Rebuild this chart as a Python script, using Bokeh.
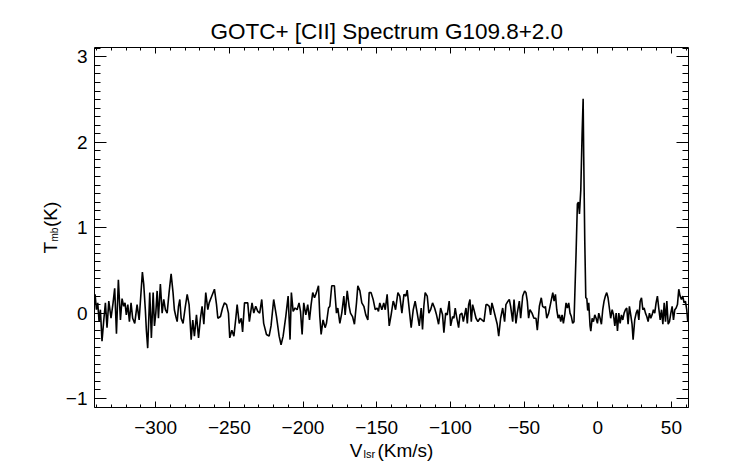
import numpy as np
from bokeh.plotting import figure
from bokeh.models import (Range1d, SingleIntervalTicker, LinearAxis, Label,
                          CustomJSTickFormatter, ColumnDataSource)
from bokeh.embed import file_html
from bokeh.resources import INLINE

# ---- data (velocity km/s, Tmb K) ----
v1 = [-341.5, -341.1, -340.2, -339.3, -338.4, -337.5, -336.4, -335.2, -334.1, -333.0, -331.8, -330.3,
      -328.9, -327.8, -326.6, -325.3, -323.9, -322.8, -321.7, -320.8, -319.9, -318.9, -317.8, -316.7,
      -315.6, -314.2, -312.6, -311.2, -310.1, -309.0, -308.1, -307.0, -306.3, -305.4, -304.0, -302.9,
      -301.7, -300.8, -299.9, -299.0, -298.1, -296.8, -295.6, -294.5, -293.4, -292.2, -290.9, -289.5,
      -288.2, -287.3, -286.3, -285.4, -284.5, -283.6, -282.7, -281.4, -280.0, -278.6, -277.3, -275.9,
      -274.8, -273.7, -272.3, -270.9, -269.6, -268.5, -267.3, -266.0, -264.6, -263.7, -261.9, -260.1,
      -258.7, -257.8, -256.0, -254.6, -253.3, -251.9, -250.6, -249.7, -248.3, -246.9, -245.6, -244.7,
      -243.3, -241.9, -241.0, -239.7]
t1 = [0.10, 0.22, 0.04, 0.12, -0.10, 0.04, -0.33, -0.08, 0.12, -0.17, 0.14, -0.06,
      0.12, 0.29, -0.24, 0.39, -0.08, 0.17, 0.08, 0.12, -0.02, 0.10, -0.10, 0.12,
      -0.06, -0.12, 0.10, -0.08, 0.20, 0.48, 0.34, 0.04, -0.20, -0.41, 0.24, -0.29,
      0.24, -0.15, 0.00, 0.26, -0.06, 0.34, 0.00, 0.16, 0.04, 0.00, 0.24, 0.46,
      0.24, 0.04, -0.04, -0.10, 0.08, 0.16, -0.06, -0.12, 0.06, 0.22, 0.10, -0.31,
      -0.08, -0.27, -0.02, -0.29, -0.06, 0.08, -0.13, 0.24, 0.04, 0.12, 0.20, 0.28,
      0.10, -0.06, -0.04, 0.06, 0.12, 0.10, 0.00, -0.29, -0.20, -0.27, -0.06, 0.10,
      -0.12, -0.06, -0.22, 0.12]

v2 = [-237.5, -236.4, -234.6, -233.4, -232.1, -230.7, -229.4, -228.0, -226.7, -224.8, -223.0, -221.7,
      -219.9, -218.0, -216.2, -214.9, -213.5, -211.7, -210.1, -208.8, -207.9, -206.7, -205.4, -204.0,
      -202.7, -201.7, -200.6, -199.5, -198.1, -196.8, -195.6, -194.5, -193.4, -192.2, -190.9, -189.5,
      -188.6, -187.7, -186.4, -185.0, -184.1, -182.7, -181.8, -180.5, -178.7, -177.3, -176.4, -175.0,
      -173.7, -172.3, -171.4, -170.0, -168.7, -167.8, -166.4, -165.1, -163.7, -162.8, -161.4, -160.1,
      -158.7, -157.4, -156.0, -155.1, -153.8, -152.4, -151.0, -149.7, -148.8, -147.9, -146.5, -145.2,
      -144.2, -142.9, -141.5, -140.2, -138.8]
t2 = [0.12, -0.10, 0.12, 0.00, 0.08, 0.02, 0.00, 0.16, -0.12, -0.25, -0.27, -0.15,
      0.16, -0.04, -0.27, -0.37, -0.27, -0.04, 0.20, -0.31, 0.24, 0.02, 0.06, 0.04,
      0.12, 0.02, -0.25, 0.12, -0.02, 0.10, -0.08, 0.10, 0.24, 0.18, 0.24, 0.32,
      -0.04, -0.25, -0.08, -0.17, -0.12, 0.06, 0.08, 0.32, 0.32, 0.00, 0.06, -0.12,
      0.00, 0.20, -0.02, 0.26, 0.08, 0.00, -0.04, -0.13, 0.12, 0.32, 0.26, 0.12,
      0.08, -0.02, -0.08, 0.24, 0.24, 0.16, 0.04, 0.06, 0.02, 0.12, 0.04, 0.12,
      0.04, 0.22, -0.15, -0.02, 0.14]

v3 = [-138.3, -137.2, -135.6, -134.3, -132.9, -131.5, -130.2, -129.3, -127.9, -126.6, -125.2, -123.9,
      -122.5, -121.1, -119.8, -118.9, -118.0, -117.1, -115.7, -114.6, -113.4, -112.1, -110.7, -109.4,
      -108.0, -106.6, -105.3, -104.4, -103.2, -102.1, -100.8, -99.8, -98.5, -97.6, -96.7, -95.8,
      -94.4, -93.5, -92.2, -91.2, -90.3, -89.4, -88.5, -87.6, -86.7, -85.8, -84.9, -84.0,
      -82.6, -81.3, -79.9, -78.6, -77.2, -75.8, -74.9, -73.6, -72.7, -71.8, -70.9, -69.5,
      -68.2, -67.2, -65.9, -64.5, -63.2, -62.3, -60.9, -60.0, -59.1, -57.7, -56.8, -55.5,
      -54.6, -53.2, -52.3, -50.9, -49.6, -48.7, -47.8, -46.9, -46.0, -44.6, -43.3, -41.9,
      -41.0, -39.6, -38.3, -37.4, -36.0]
t3 = [0.12, 0.04, 0.24, 0.20, 0.00, 0.22, 0.20, 0.27, 0.04, -0.17, 0.04, 0.14,
      0.00, -0.15, 0.06, -0.19, 0.08, 0.24, 0.20, 0.00, 0.04, 0.12, 0.06, -0.02,
      -0.13, 0.06, -0.02, -0.23, 0.00, -0.02, 0.14, -0.15, -0.04, -0.06, 0.06, -0.04,
      -0.17, -0.02, 0.00, -0.10, -0.02, 0.06, -0.12, 0.10, 0.16, -0.10, 0.10, 0.04,
      -0.06, -0.10, -0.06, -0.08, -0.10, 0.10, 0.10, 0.08, -0.02, 0.12, 0.06, -0.04,
      -0.13, -0.27, -0.06, 0.06, -0.10, 0.10, 0.14, 0.16, 0.08, -0.10, 0.16, -0.12,
      0.00, 0.14, -0.06, 0.20, 0.26, 0.24, 0.14, -0.06, 0.04, 0.00, -0.06, -0.06,
      -0.20, 0.08, 0.18, 0.08, 0.06]

v4 = [-35.5, -34.6, -33.3, -31.9, -30.5, -29.6, -28.7, -27.8, -26.9, -26.0, -25.1, -24.2,
      -23.3, -22.4, -21.5, -20.6, -19.7, -18.8, -17.9, -17.0, -16.1, -14.7, -13.8, -13.1,
      -12.4, -11.5, -10.6, -9.9, -9.5, -8.8, -8.1, -7.4, -6.8, -6.1, -5.2, -4.7,
      -3.8, -2.9, -2.0, -1.1, -0.2, 0.7, 1.6, 2.5, 3.4, 4.3, 5.2, 6.1,
      7.0, 7.9, 8.8, 9.8, 10.7, 11.6, 12.5, 13.4, 14.3, 15.2, 16.1, 17.0,
      17.9, 18.8, 19.7, 20.6, 21.5, 22.4, 23.3, 24.0, 25.1, 26.1, 27.0, 27.9,
      28.8, 29.7, 30.6, 31.5, 32.4, 33.3, 34.2, 35.1, 36.0, 36.9, 37.8, 38.7,
      39.6, 40.5, 41.4, 42.4, 43.3, 44.2, 45.1, 46.0, 46.9, 47.8, 48.7, 49.6,
      50.5, 51.4, 52.3, 53.2, 54.1, 55.0, 55.9, 56.8, 57.7, 58.6, 59.5, 60.4, 61.1]
t4 = [0.08, -0.06, 0.00, 0.12, 0.24, 0.14, 0.22, 0.04, -0.06, -0.02, -0.10, -0.02,
      -0.12, -0.02, 0.12, 0.06, 0.12, 0.00, -0.04, -0.12, -0.10, 0.70, 1.28, 1.30,
      1.16, 1.44, 2.10, 2.51, 1.83, 0.85, 0.18, 0.17, 0.03, 0.12, -0.15, -0.21,
      -0.06, -0.10, -0.02, -0.06, -0.12, 0.00, -0.06, -0.13, 0.04, 0.14, 0.20, 0.24,
      0.18, 0.06, -0.06, 0.04, -0.02, -0.15, 0.00, -0.21, 0.00, -0.12, -0.02, -0.08,
      0.00, 0.04, 0.06, -0.13, 0.08, -0.02, -0.13, -0.31, -0.08, 0.00, 0.04, -0.08,
      0.14, 0.18, 0.04, 0.06, 0.00, -0.04, -0.10, 0.00, -0.06, -0.02, 0.04, 0.00,
      0.12, 0.20, 0.06, -0.08, 0.04, -0.13, 0.12, -0.10, 0.14, -0.13, -0.10, 0.00,
      0.08, -0.08, 0.04, 0.06, 0.10, 0.28, 0.20, 0.16, 0.20, 0.12, 0.14, 0.04, -0.10]

velocity = v1 + v2 + v3 + v4
tmb = t1 + t2 + t3 + t4

title_text = "GOTC+ [CII] Spectrum G109.8+2.0"
x_range = (-341.5, 61.6)
y_range = (-1.105, 3.11)

FONT = "Liberation Sans"
W, H = 742, 464
FL, FR, FT, FB = 94, 688, 47, 407   # frame edges in canvas pixels

p = figure(width=W, height=H, output_backend="svg", toolbar_location=None,
           x_range=Range1d(*x_range), y_range=Range1d(*y_range),
           min_border_left=FL, min_border_right=W - FR, min_border_top=FT, min_border_bottom=H - FB,
           background_fill_color="white", border_fill_color="white")
p.title = None
p.xgrid.visible = False
p.ygrid.visible = False
p.outline_line_color = "black"
p.outline_line_width = 1

fmt = CustomJSTickFormatter(code="return tick < 0 ? '\u2212' + Math.abs(tick) : '' + tick;")
blank = CustomJSTickFormatter(code="return '';")


def style(ax, tin, tmin, standoff):
    ax.axis_line_color = None
    ax.major_tick_in = tin
    ax.major_tick_out = 0
    ax.minor_tick_in = tmin
    ax.minor_tick_out = 0
    ax.major_tick_line_color = "black"
    ax.minor_tick_line_color = "black"
    ax.major_label_text_font = FONT
    ax.major_label_text_font_size = "19px"
    ax.major_label_text_color = "black"
    ax.major_label_standoff = standoff


xb = p.xaxis[0]
xb.ticker = SingleIntervalTicker(interval=50, num_minor_ticks=5)
xb.formatter = fmt
style(xb, 6, 3, 13)

yl = p.yaxis[0]
yl.ticker = SingleIntervalTicker(interval=1, num_minor_ticks=10)
yl.formatter = fmt
style(yl, 12, 6, 7)

xt = LinearAxis(ticker=SingleIntervalTicker(interval=50, num_minor_ticks=5), formatter=blank)
style(xt, 6, 3, 0)
xt.major_label_text_font_size = "1px"
p.add_layout(xt, "above")

yr = LinearAxis(ticker=SingleIntervalTicker(interval=1, num_minor_ticks=10), formatter=blank)
style(yr, 12, 6, 0)
yr.major_label_text_font_size = "1px"
p.add_layout(yr, "right")

src = ColumnDataSource(dict(v=velocity, t=tmb))
p.line("v", "t", source=src, line_color="black", line_width=1.6)


# text placement: canvas pixel -> data position (labels live in side panels, so not clipped)
def dx(px):
    return x_range[0] + (px - FL) * (x_range[1] - x_range[0]) / (FR - FL)


def dy(py):
    return y_range[0] + (FB - py) * (y_range[1] - y_range[0]) / (FB - FT)


BASE_SHIFT = 0.35  # rendered baseline sits this many em below the anchor


def lab(side, text, px, py, size, rotated=False, align="left"):
    if rotated:
        px -= BASE_SHIFT * size
    else:
        py -= BASE_SHIFT * size
    p.add_layout(Label(x=dx(px), y=dy(py), text=text, angle=(np.pi / 2 if rotated else 0.0),
                       text_font=FONT, text_font_size=f"{size}px", text_color="black",
                       text_align=align, text_baseline="alphabetic"), side)


# title
lab("above", title_text, 386.3, 39, 22.5, align="center")
# x-axis label  V_lsr(Km/s)
lab("below", "(Km/s)", 377.0, 456.5, 19)
lab("right", "V", 349.3, 456.5, 19)
lab("right", "lsr", 363.0, 457.5, 11)
# y-axis label  T_mb(K)
lab("left", "T", 57, 253, 19, rotated=True)
lab("right", "mb", 57.5, 241, 10, rotated=True)
lab("left", "(K)", 57, 226.5, 19, rotated=True)

open("out.html", "w").write(file_html(p, INLINE))
